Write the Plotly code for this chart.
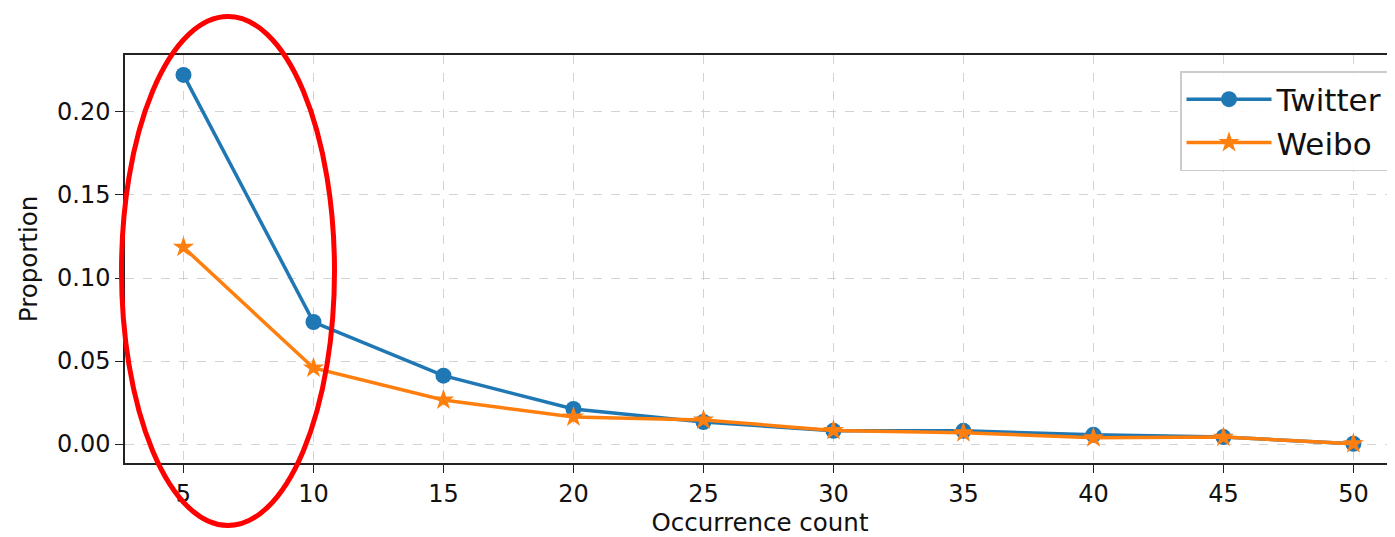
import plotly.graph_objects as go

counts = [5, 10, 15, 20, 25, 30, 35, 40, 45, 50]
twitter = [0.2223, 0.0735, 0.0412, 0.0211, 0.0133, 0.0080, 0.0080, 0.0056, 0.0042, 0.0002]
weibo = [0.1185, 0.0458, 0.0265, 0.0163, 0.0145, 0.0082, 0.0068, 0.0038, 0.0042, 0.0002]
xticks = [5, 10, 15, 20, 25, 30, 35, 40, 45, 50]
yticks = [0.0, 0.05, 0.10, 0.15, 0.20]
ytick_text = ["0.00", "0.05", "0.10", "0.15", "0.20"]

# page body has an 8px default margin, so the figure is shifted by 8px
OFF = 8
W, H = 1395 - OFF, 537 - OFF
L, R, T, B = 125 - OFF, 0, 55 - OFF, 74

fig = go.Figure()
fig.add_trace(go.Scatter(x=counts, y=twitter, name="Twitter", mode="lines+markers",
                         line=dict(color="#1f77b4", width=3.5),
                         marker=dict(symbol="circle", size=16, color="#1f77b4")))
fig.add_trace(go.Scatter(x=counts, y=weibo, name="Weibo", mode="lines+markers",
                         line=dict(color="#ff7f0e", width=3.5),
                         marker=dict(symbol="star", size=16, color="#ff7f0e")))

# page-pixel -> paper coordinates
def px_x(p):
    return (p - 125) / (1395 - 125)

def px_y(p):
    return (463 - p) / (463 - 55)

fig.add_shape(type="circle", xref="paper", yref="paper",
              x0=px_x(121.5), x1=px_x(334.5), y0=px_y(525.5), y1=px_y(16.5),
              line=dict(color="#ff0000", width=5), fillcolor="rgba(0,0,0,0)")

grid = "rgba(200,200,200,0.8)"
fig.update_layout(
    width=W, height=H,
    margin=dict(l=L, r=R, t=T, b=B),
    plot_bgcolor="white", paper_bgcolor="white",
    font=dict(family="DejaVu Sans", size=24, color="#111111"),
    showlegend=True,
    legend=dict(x=px_x(1180), y=px_y(71), xanchor="left", yanchor="top",
                bgcolor="rgba(255,255,255,0.9)", bordercolor="#cccccc", borderwidth=1.5,
                font=dict(size=31), itemwidth=85, tracegroupgap=4),
    xaxis=dict(range=[2.75, 51.6], tickvals=xticks, showgrid=True, gridcolor=grid,
               griddash="dash", gridwidth=1, showline=True, linecolor="#222222", linewidth=1.5,
               mirror=True, ticks="outside", ticklen=8, tickcolor="#222222", zeroline=False,
               title=dict(text="Occurrence count", font=dict(size=24.5), standoff=9)),
    yaxis=dict(range=[-0.0114, 0.2343], tickvals=yticks, ticktext=ytick_text, showgrid=True,
               gridcolor=grid, griddash="dash", gridwidth=1, showline=True, linecolor="#222222",
               linewidth=1.5, mirror=False, ticks="outside", ticklen=8, tickcolor="#222222",
               zeroline=False,
               title=dict(text="Proportion", font=dict(size=24.5), standoff=12)),
)

fig.write_html("out.html")
